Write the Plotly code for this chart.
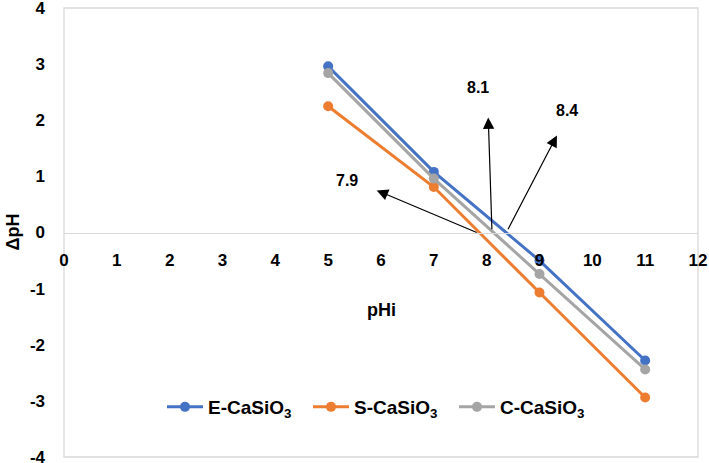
import plotly.graph_objects as go

pHi = [5, 7, 9, 11]
e_casio3 = [2.96, 1.08, -0.50, -2.28]
s_casio3 = [2.25, 0.81, -1.07, -2.94]
c_casio3 = [2.84, 0.96, -0.74, -2.44]

series_names = ["E-CaSiO<sub>3</sub>", "S-CaSiO<sub>3</sub>", "C-CaSiO<sub>3</sub>"]
series_values = [e_casio3, s_casio3, c_casio3]
series_colors = ["#4472C4", "#ED7D31", "#A5A5A5"]

x_ticks = list(range(0, 13))
y_ticks = list(range(-4, 5))

# pHpzc labels
pzc_labels = ["7.9", "8.1", "8.4"]
arrow_heads = [(5.92, 0.75), (8.03, 2.05), (9.33, 1.73)]
arrow_tails = [(7.84, -0.01), (8.10, 0.03), (8.39, 0.03)]
label_pos = [(5.36, 0.93), (7.84, 2.59), (9.52, 2.17)]

FONT = "Liberation Sans"

fig = go.Figure()
for name, vals, col in zip(series_names, series_values, series_colors):
    fig.add_trace(go.Scatter(
        x=pHi, y=vals, name=name, mode="lines+markers",
        line=dict(color=col, width=3),
        marker=dict(color=col, size=10),
    ))

for lab, (hx, hy), (tx, ty), (lx, ly) in zip(pzc_labels, arrow_heads, arrow_tails, label_pos):
    fig.add_annotation(x=hx, y=hy, ax=tx, ay=ty, xref="x", yref="y",
                       axref="x", ayref="y", text="", showarrow=True,
                       arrowhead=2, arrowsize=1.9, arrowwidth=1.2,
                       arrowcolor="black")
    fig.add_annotation(x=lx, y=ly, xref="x", yref="y", text="<b>%s</b>" % lab,
                       showarrow=False, xanchor="center", yanchor="middle",
                       font=dict(family=FONT, size=16, color="black"))

fig.add_annotation(x=0.5, y=(457 - 310) / 449, xref="paper", yref="paper",
                   text="<b>pHi</b>", showarrow=False, xanchor="center", yanchor="middle",
                   font=dict(family=FONT, size=18, color="black"))
fig.add_annotation(x=-52 / 634, y=0.5, xref="paper", yref="paper",
                   text="<b>ΔpH</b>", showarrow=False, textangle=-90,
                   xanchor="center", yanchor="middle",
                   font=dict(family=FONT, size=18, color="black"))

fig.add_shape(type="rect", xref="paper", yref="paper", x0=0, y0=0, x1=1, y1=1,
              line=dict(color="#D9D9D9", width=1.3), layer="below")

fig.update_layout(
    width=709, height=463,
    margin=dict(l=64, r=11, t=8, b=6, autoexpand=False),
    plot_bgcolor="white", paper_bgcolor="white",
    font=dict(family=FONT, size=17, color="black"),
    showlegend=True,
    legend=dict(orientation="h", x=0.5, xanchor="center",
                y=(457 - 407) / 449, yanchor="middle",
                font=dict(family=FONT, size=19, color="black", weight="bold"),
                bgcolor="rgba(0,0,0,0)", itemwidth=36,
                entrywidth=95, entrywidthmode="pixels"),
    xaxis=dict(range=[0, 12], tickvals=x_ticks, ticktext=["<b>%d</b>" % v for v in x_ticks],
               showgrid=False, zeroline=False, showline=True, linecolor="#D9D9D9",
               linewidth=1.3, anchor="free", position=0.5, ticks="",
               automargin=False, ticklabeloverflow="allow",
               ticklabelstandoff=12, tickfont=dict(family=FONT, size=17)),
    yaxis=dict(range=[-4, 4], tickvals=y_ticks, ticktext=["<b>%d</b>" % v for v in y_ticks],
               showgrid=False, zeroline=False, showline=False, ticks="",
               automargin=False, ticklabeloverflow="allow",
               ticklabelstandoff=18, tickfont=dict(family=FONT, size=17)),
)

fig.write_html("out.html", post_script="document.body.style.margin='0';",
               config={"displayModeBar": False})
